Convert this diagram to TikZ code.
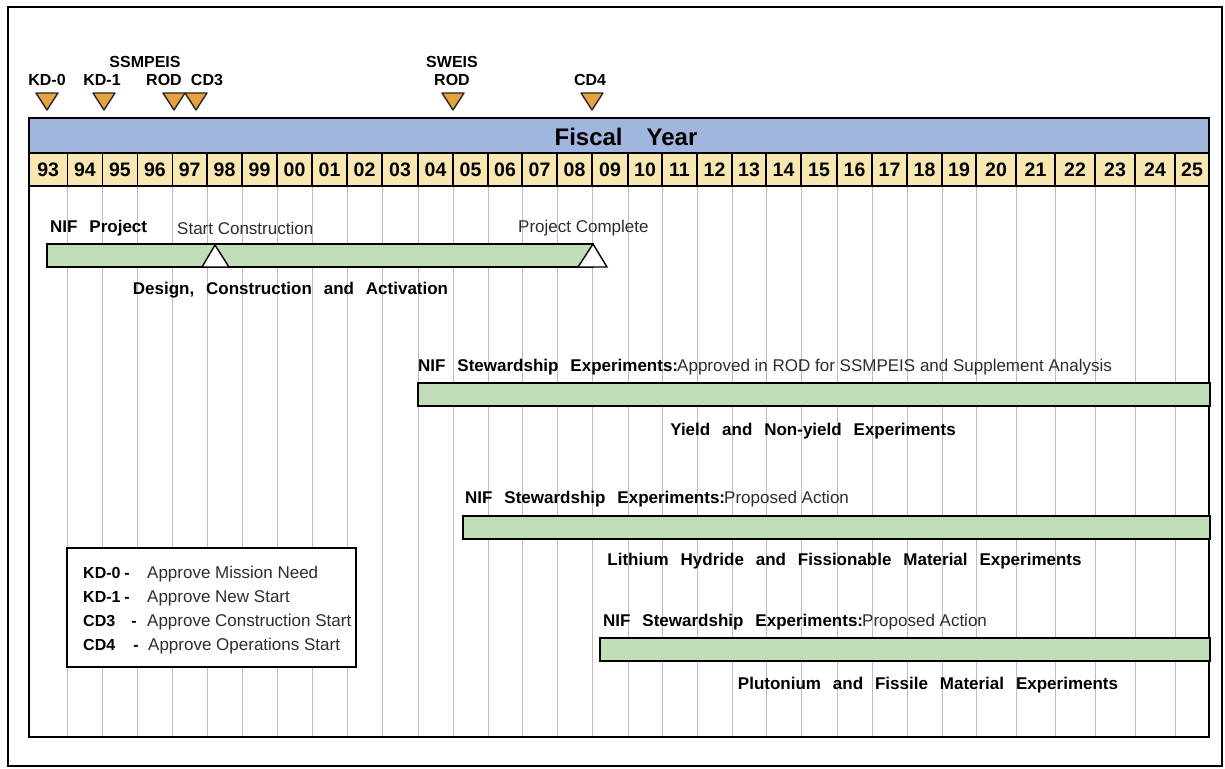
\documentclass[tikz,border=0pt]{standalone}
\usepackage{fontspec}
\setmainfont{Liberation Sans}
\definecolor{hdrblue}{RGB}{160,182,222}
\definecolor{yrcell}{RGB}{247,232,178}
\definecolor{bargreen}{RGB}{193,222,184}
\definecolor{msorange}{RGB}{230,162,62}
\definecolor{gridc}{RGB}{200,185,185}
\definecolor{regtext}{RGB}{45,45,45}
\newcommand\wsp[1]{\spaceskip=#1\relax}
\begin{document}
\begin{tikzpicture}[x=1pt,y=-1pt,
  bl/.style={font={\fontsize{17}{19}\selectfont\bfseries\wsp{0.7em}}, inner sep=0, text=black},
  rg/.style={font={\fontsize{17}{19}\selectfont}, inner sep=0, text=regtext},
  lgb/.style={font={\fontsize{16}{18}\selectfont\bfseries}, inner sep=0, text=black},
  ms/.style={font={\fontsize{16}{17}\selectfont\bfseries}, inner sep=0, text=black},
  yr/.style={font={\fontsize{19.5}{21}\selectfont\bfseries}, inner sep=0, text=black},
  bar/.style={draw=black, line width=1.5pt, fill=bargreen},
  mstri/.style={draw=black!85, line width=1.4pt, fill=msorange, line join=round},
  wtri/.style={draw=black, line width=1.4pt, fill=white, line join=miter}]
\useasboundingbox (0,0) rectangle (1225,768);
\fill[white] (0,0) rectangle (1225,768);
% outer frame
\draw[line width=2.8pt] (8,7) rectangle (1222,766);
% grid and year cells
\foreach \yy/\a/\b in {93/29/67.5, 94/67.5/102.5, 95/102.5/137.5, 96/137.5/172.5, 97/172.5/207, 98/207/242, 99/242/277, 00/277/312, 01/312/347, 02/347/382, 03/382/418, 04/418/453, 05/453/488, 06/488/522, 07/522/557, 08/557/592, 09/592/628, 10/628/662, 11/662/697, 12/697/732, 13/732/766, 14/766/801, 15/801/837, 16/837/872, 17/872/907, 18/907/942, 19/942/976, 20/976/1016, 21/1016/1055, 22/1055/1095, 23/1095/1135, 24/1135/1175, 25/1175/1209}
{
  \draw[gridc, line width=1pt] (\b,186) -- (\b,737);
  \draw[black, line width=1.2pt, fill=yrcell] (\a,153) rectangle (\b,186);
  \node[yr] (y\yy) at ({(\a+\b)/2},170) {\yy};
}
% header
\draw[line width=1.5pt, fill=hdrblue] (29,118) rectangle (1209,153);
\node[font={\fontsize{24}{26}\selectfont\bfseries\wsp{1em}}, inner sep=0] (title) at (626,137) {Fiscal Year};
% chart frame
\draw[line width=2pt] (29,118) rectangle (1209,737);
% milestones
\foreach \c in {47,104,174,196,453,592}
  {\draw[mstri] (\c-11,93) -- (\c+11,93) -- (\c,110) -- cycle;}
\node[ms] (kd0) at (47,80) {KD-0};
\node[ms] (kd1) at (102,80) {KD-1};
\node[ms] (ssm) at (145,62) {SSMPEIS};
\node[ms] (rod1) at (164,80) {ROD};
\node[ms] (cd3) at (207,80) {CD3};
\node[ms] (sweis) at (452,62) {SWEIS};
\node[ms] (rod2) at (452,80) {ROD};
\node[ms] (cd4) at (590,80) {CD4};
% NIF project
\node[bl, anchor=west] (nifp) at (50,228) {NIF Project};
\node[rg, anchor=west] (startc) at (177,228) {Start Construction};
\node[rg, anchor=west] (projc) at (518,228) {Project Complete};
\draw[bar] (47,244) rectangle (593,267);
\draw[wtri] (202,267) -- (215,245) -- (229,267) -- cycle;
\draw[wtri] (578,267) -- (593,244) -- (607,267) -- cycle;
\node[bl] (dca) at (290.5,290) {Design, Construction and Activation};
% stewardship 1
\node[bl, anchor=west] (nse1) at (418,367) {NIF Stewardship Experiments:};
\node[rg, anchor=west] (appr) at (677,367) {Approved in ROD for SSMPEIS and Supplement Analysis};
\draw[bar] (418,383) rectangle (1210,406);
\node[bl] (yield) at (813,431) {Yield and Non-yield Experiments};
% stewardship 2
\node[bl, anchor=west] (nse2) at (465,499) {NIF Stewardship Experiments:};
\node[rg, anchor=west] (prop2) at (724,499) {Proposed Action};
\draw[bar] (463,516) rectangle (1210,539);
\node[bl] (lith) at (844.5,561) {Lithium Hydride and Fissionable Material Experiments};
% stewardship 3
\node[bl, anchor=west] (nse3) at (603,622) {NIF Stewardship Experiments:};
\node[rg, anchor=west] (prop3) at (862,622) {Proposed Action};
\draw[bar] (600,638) rectangle (1210,661);
\node[bl] (plut) at (928,685) {Plutonium and Fissile Material Experiments};
% legend
\draw[line width=1.8pt, fill=white] (67,548) rectangle (356,667);
\node[lgb, anchor=base west] (l1k) at (83,578) {KD-0};
\node[lgb, anchor=base] (l1d) at (127,578) {-};
\node[rg, anchor=base west] (l1t) at (147,578) {Approve Mission Need};
\node[lgb, anchor=base west] (l2k) at (83,602) {KD-1};
\node[lgb, anchor=base] (l2d) at (127,602) {-};
\node[rg, anchor=base west] (l2t) at (147,602) {Approve New Start};
\node[lgb, anchor=base west] (l3k) at (83,626) {CD3};
\node[lgb, anchor=base] (l3d) at (134,626) {-};
\node[rg, anchor=base west] (l3t) at (147,626) {Approve Construction Start};
\node[lgb, anchor=base west] (l4k) at (83,650) {CD4};
\node[lgb, anchor=base] (l4d) at (136,650) {-};
\node[rg, anchor=base west] (l4t) at (148,650) {Approve Operations Start};
\end{tikzpicture}
\end{document}
